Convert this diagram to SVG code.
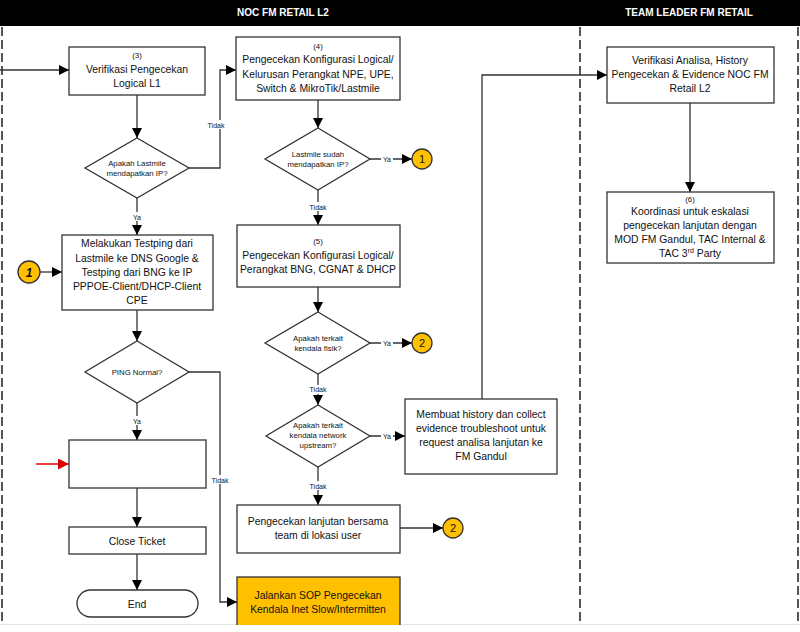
<svg xmlns="http://www.w3.org/2000/svg" width="800" height="632" viewBox="0 0 800 632">
<defs>
<marker id="arr" viewBox="0 0 10 10" refX="10" refY="5" markerWidth="10" markerHeight="10" markerUnits="userSpaceOnUse" orient="auto"><path d="M0,0 L10,5 L0,10 z" fill="#000"/></marker>
<marker id="arrR" viewBox="0 0 10 10" refX="10" refY="5" markerWidth="11" markerHeight="11" markerUnits="userSpaceOnUse" orient="auto"><path d="M0,0 L10,5 L0,10 z" fill="#e00000"/></marker>
<style>
.t{font-family:"Liberation Sans",Arial,sans-serif;font-size:10.4px;fill:#111;text-anchor:middle}
.s{font-family:"Liberation Sans",Arial,sans-serif;font-size:7.8px;fill:#111;text-anchor:middle}
.lbl{font-family:"Liberation Sans",Arial,sans-serif;font-size:7px;fill:#111;text-anchor:middle}
.hd{font-family:"Liberation Sans",Arial,sans-serif;font-size:10px;font-weight:bold;fill:#fff;text-anchor:middle}
.box{fill:#fff;stroke:#333;stroke-width:1.3}
.yel{fill:#FFC000;stroke:#333;stroke-width:1.3}
.c{fill:#FFC000;stroke:#333;stroke-width:1.3}
.ln{fill:none;stroke:#333;stroke-width:1.3}
.lane{fill:none;stroke:#555;stroke-width:2;stroke-dasharray:9 4}
</style>
</defs>
<rect x="0" y="0" width="800" height="632" fill="#fff"/>
<g id="lanes">
<rect x="0" y="0" width="800" height="26" fill="#000"/>
<text class="hd" x="283" y="16">NOC FM RETAIL L2</text>
<text class="hd" x="689" y="16">TEAM LEADER FM RETAIL</text>
<line class="lane" x1="2" y1="27" x2="2" y2="623"/>
<line class="lane" x1="580" y1="27" x2="580" y2="623"/>
<line class="lane" x1="798" y1="27" x2="798" y2="623"/>
<line x1="0" y1="624.5" x2="800" y2="624.5" stroke="#e4e4e4" stroke-width="1"/>
</g>
<g id="connectors">
<line class="ln" x1="0" y1="70" x2="69" y2="70" marker-end="url(#arr)"/>
<line class="ln" x1="137" y1="95" x2="137" y2="138" marker-end="url(#arr)"/>
<polyline class="ln" points="189,168 220,168 220,70 236,70" marker-end="url(#arr)"/>
<line class="ln" x1="137" y1="198" x2="137" y2="235" marker-end="url(#arr)"/>
<line class="ln" x1="40" y1="272" x2="62" y2="272" marker-end="url(#arr)"/>
<line class="ln" x1="137" y1="310" x2="137" y2="341" marker-end="url(#arr)"/>
<polyline class="ln" points="189,372 220,372 220,602 237,602" marker-end="url(#arr)"/>
<line class="ln" x1="137" y1="403" x2="137" y2="440" marker-end="url(#arr)"/>
<line x1="36" y1="464" x2="69" y2="464" stroke="#e00000" stroke-width="1.3" marker-end="url(#arrR)"/>
<line class="ln" x1="137" y1="488" x2="137" y2="527" marker-end="url(#arr)"/>
<line class="ln" x1="137" y1="554" x2="137" y2="590" marker-end="url(#arr)"/>
<line class="ln" x1="318" y1="100" x2="318" y2="128" marker-end="url(#arr)"/>
<line class="ln" x1="370" y1="159" x2="412" y2="159" marker-end="url(#arr)"/>
<line class="ln" x1="318" y1="190" x2="318" y2="225" marker-end="url(#arr)"/>
<line class="ln" x1="318" y1="287" x2="318" y2="312" marker-end="url(#arr)"/>
<line class="ln" x1="370" y1="343" x2="412" y2="343" marker-end="url(#arr)"/>
<line class="ln" x1="318" y1="374" x2="318" y2="405" marker-end="url(#arr)"/>
<line class="ln" x1="370" y1="436" x2="405" y2="436" marker-end="url(#arr)"/>
<line class="ln" x1="318" y1="467" x2="318" y2="505" marker-end="url(#arr)"/>
<line class="ln" x1="400" y1="528" x2="443" y2="528" marker-end="url(#arr)"/>
<polyline class="ln" points="482,399 482,75 607,75" marker-end="url(#arr)"/>
<line class="ln" x1="690" y1="103" x2="690" y2="192" marker-end="url(#arr)"/>
<rect x="206" y="120" width="20" height="9" fill="#fff"/>
<text class="lbl" x="216" y="127.5">Tidak</text>
<rect x="130" y="212" width="14" height="9" fill="#fff"/>
<text class="lbl" x="137" y="219.5">Ya</text>
<rect x="208" y="475" width="22" height="9" fill="#fff"/>
<text class="lbl" x="220" y="482.5">Tidak</text>
<rect x="130" y="416" width="14" height="9" fill="#fff"/>
<text class="lbl" x="137" y="423.5">Ya</text>
<rect x="381" y="155" width="12" height="8" fill="#fff"/>
<text class="lbl" x="387" y="161.5">Ya</text>
<rect x="307" y="202" width="22" height="9" fill="#fff"/>
<text class="lbl" x="318" y="209.5">Tidak</text>
<rect x="381" y="339" width="12" height="8" fill="#fff"/>
<text class="lbl" x="387" y="345.5">Ya</text>
<rect x="307" y="385" width="22" height="9" fill="#fff"/>
<text class="lbl" x="318" y="391.5">Tidak</text>
<rect x="381" y="432" width="12" height="8" fill="#fff"/>
<text class="lbl" x="387" y="438.5">Ya</text>
<rect x="307" y="481" width="22" height="9" fill="#fff"/>
<text class="lbl" x="318" y="488.5">Tidak</text>
</g>
<g id="n3">
<rect class="box" x="69" y="47" width="136" height="48"/>
<text class="s" x="137" y="58">(3)</text>
<text class="t" x="137" y="73">Verifikasi Pengecekan</text>
<text class="t" x="137" y="87">Logical L1</text>
</g>
<g id="d1">
<polygon class="box" points="137,138 189,168 137,198 85,168"/>
<text class="s" x="137" y="166">Apakah Lastmile</text>
<text class="s" x="137" y="176">mendapatkan IP?</text>
</g>
<g id="ntest">
<rect class="box" x="62" y="235" width="151" height="75"/>
<text class="t" x="137" y="247">Melakukan Testping dari</text>
<text class="t" x="137" y="262">Lastmile ke DNS Google &amp;</text>
<text class="t" x="137" y="276">Testping dari BNG ke IP</text>
<text class="t" x="137" y="290">PPPOE-Client/DHCP-Client</text>
<text class="t" x="137" y="304">CPE</text>
</g>
<g id="c1a">
<circle class="c" cx="29" cy="272" r="11"/>
<text class="t" x="29" y="276.5" style="font-weight:bold;font-style:italic;font-size:12px">1</text>
</g>
<g id="d2">
<polygon class="box" points="137,341 189,372 137,403 85,372"/>
<text class="s" x="137" y="375">PING Normal?</text>
</g>
<g id="nempty">
<rect class="box" x="69" y="440" width="137" height="48"/>
</g>
<g id="nclose">
<rect class="box" x="69" y="527" width="137" height="27"/>
<text class="t" x="137" y="544.5">Close Ticket</text>
</g>
<g id="nend">
<rect class="box" x="77" y="590" width="121" height="27" rx="13.5" ry="13.5"/>
<text class="t" x="137" y="607.5">End</text>
</g>
<g id="n4">
<rect class="box" x="236" y="37" width="164" height="63"/>
<text class="s" x="318" y="49">(4)</text>
<text class="t" x="318" y="63">Pengecekan Konfigurasi Logical/</text>
<text class="t" x="318" y="78">Kelurusan Perangkat NPE, UPE,</text>
<text class="t" x="318" y="92">Switch &amp; MikroTik/Lastmile</text>
</g>
<g id="d3">
<polygon class="box" points="318,128 370,159 318,190 265,159"/>
<text class="s" x="318" y="157">Lastmile sudah</text>
<text class="s" x="318" y="167">mendapatkan IP?</text>
</g>
<g id="c1b">
<circle class="c" cx="422" cy="159" r="10"/>
<text class="t" x="422" y="163" style="font-size:11px">1</text>
</g>
<g id="n5">
<rect class="box" x="237" y="225" width="163" height="62"/>
<text class="s" x="318" y="244">(5)</text>
<text class="t" x="318" y="259">Pengecekan Konfigurasi Logical/</text>
<text class="t" x="318" y="273">Perangkat BNG, CGNAT &amp; DHCP</text>
</g>
<g id="d4">
<polygon class="box" points="318,312 370,343 318,374 265,343"/>
<text class="s" x="318" y="341">Apakah terkait</text>
<text class="s" x="318" y="351">kendala fisik?</text>
</g>
<g id="c2a">
<circle class="c" cx="422" cy="343" r="10"/>
<text class="t" x="422" y="347" style="font-size:11px">2</text>
</g>
<g id="d5">
<polygon class="box" points="318,405 370,436 318,467 266,436"/>
<text class="s" x="318" y="428">Apakah terkait</text>
<text class="s" x="318" y="438">kendala network</text>
<text class="s" x="318" y="448">upstream?</text>
</g>
<g id="nhist">
<rect class="box" x="405" y="399" width="152" height="75"/>
<text class="t" x="481" y="418">Membuat history dan collect</text>
<text class="t" x="481" y="432">evidence troubleshoot untuk</text>
<text class="t" x="481" y="446">request analisa lanjutan ke</text>
<text class="t" x="481" y="460">FM Gandul</text>
</g>
<g id="nlanjut">
<rect class="box" x="237" y="505" width="163" height="48"/>
<text class="t" x="318" y="525">Pengecekan lanjutan bersama</text>
<text class="t" x="318" y="539">team di lokasi user</text>
</g>
<g id="c2b">
<circle class="c" cx="453" cy="528" r="10"/>
<text class="t" x="453" y="532" style="font-size:11px">2</text>
</g>
<g id="nsop">
<rect class="yel" x="237" y="577" width="163" height="60"/>
<text class="t" x="318" y="599">Jalankan SOP Pengecekan</text>
<text class="t" x="318" y="613">Kendala Inet Slow/Intermitten</text>
</g>
<rect x="0" y="625" width="800" height="7" fill="#fff"/>
<g id="ntl1">
<rect class="box" x="607" y="47" width="167" height="56"/>
<text class="t" x="690" y="64">Verifikasi Analisa, History</text>
<text class="t" x="690" y="78">Pengecekan &amp; Evidence NOC FM</text>
<text class="t" x="690" y="92">Retail L2</text>
</g>
<g id="n6">
<rect class="box" x="607" y="192" width="167" height="71"/>
<text class="s" x="690" y="202">(6)</text>
<text class="t" x="690" y="215">Koordinasi untuk eskalasi</text>
<text class="t" x="690" y="229">pengecekan lanjutan dengan</text>
<text class="t" x="690" y="243">MOD FM Gandul, TAC Internal &amp;</text>
<text class="t" x="690" y="257">TAC 3<tspan font-size="7" dy="-4">rd</tspan><tspan dy="4"> Party</tspan></text>
</g>
</svg>
